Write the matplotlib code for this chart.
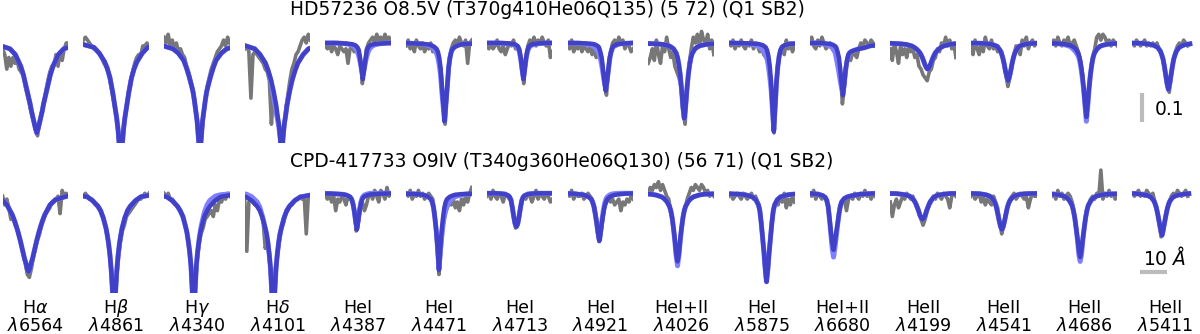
import numpy as np
import matplotlib.pyplot as plt

# line labels along the bottom
line_names = [r'H$\alpha$', r'H$\beta$', r'H$\gamma$', r'H$\delta$', 'HeI', 'HeI',
              'HeI', 'HeI', 'HeI+II', 'HeI', 'HeI+II', 'HeII', 'HeII', 'HeII', 'HeII']
line_waves = ['6564', '4861', '4340', '4101', '4387', '4471', '4713', '4921',
              '4026', '5875', '6680', '4199', '4541', '4686', '5411']

titles = ['HD57236 O8.5V (T370g410He06Q135) (5 72) (Q1 SB2)',
          'CPD-417733 O9IV (T340g360He06Q130) (56 71) (Q1 SB2)']

# model sample points, Angstrom from line centre
fit_grid = [-16, -10, -8, -6, -5, -4, -3, -2.5, -2, -1.5, -1, -0.5, 0,
            0.5, 1, 1.5, 2, 2.5, 3, 4, 5, 6, 8, 10, 16]
# observed sample points, Angstrom from window centre
obs_grid = np.linspace(-12.2, 12.2, 33)

# line centre offsets (Angstrom) inside each window
shift_top = [0.5, 1.7, 1.1, 1.5, 1.7, 2.1, 1.4, 2.0, 1.2, 4.5, 0.2, 1.7, 1.6, 0.7, 1.2]
shift_bot = [-2.6, -0.8, -1.2, -1.6, -0.5, 0.0, -1.2, -0.4, -1.3, 1.8, -3.3, -0.2, -0.7, -1.6, -1.2]

# line depths in percent of continuum (1 - flux)
fit_top = [
    [0.2, 2, 4, 8, 11, 15, 19, 21, 23.5, 25.5, 27.5, 29.5, 31, 29.5, 27.5, 25.5, 23.5, 21, 19, 15, 11, 8, 4, 2, 0.2],
    [0, 1.5, 3.5, 6.5, 8.8, 12, 17, 20, 23, 26, 30, 36, 40, 36, 30, 26, 23, 20, 17, 12, 8.8, 6.5, 3.5, 1.5, 0],
    [0.3, 2, 3.5, 6, 8.5, 11.5, 15, 17, 20, 23.5, 27, 33, 40, 33, 27, 23.5, 20, 17, 15, 11.5, 8.5, 6, 3.5, 2, 0.3],
    [0.2, 2, 4, 7, 9.5, 12.5, 16.5, 19, 21.5, 25, 28, 33, 40, 33, 28, 25, 21.5, 19, 16.5, 12.5, 9.5, 7, 4, 2, 0.2],
    [0, 0, 0.1, 0.2, 0.3, 0.4, 0.7, 1, 1.5, 2.5, 5.5, 9, 12.5, 9, 5.5, 2.5, 1.5, 1, 0.7, 0.4, 0.3, 0.2, 0.1, 0, 0],
    [0, 0.2, 0.3, 0.5, 0.8, 1.2, 2, 3, 5, 8.5, 15, 21, 27, 21, 15, 8.5, 5, 3, 2, 1.2, 0.8, 0.5, 0.3, 0.2, 0],
    [0, 0, 0, 0.1, 0.2, 0.3, 0.5, 0.8, 1.2, 2.5, 5, 9, 12.5, 9, 5, 2.5, 1.2, 0.8, 0.5, 0.3, 0.2, 0.1, 0, 0, 0],
    [0, 0, 0.1, 0.2, 0.3, 0.5, 1, 1.5, 3, 5, 9, 13, 16.5, 13, 9, 5, 3, 1.5, 1, 0.5, 0.3, 0.2, 0.1, 0, 0],
    [0.1, 0.3, 0.5, 0.9, 1.3, 2, 3.5, 5, 7.5, 11, 16, 22, 26, 22, 16, 11, 7.5, 5, 3.5, 2, 1.3, 0.9, 0.5, 0.3, 0.1],
    [0, 0.1, 0.2, 0.3, 0.5, 0.8, 1.5, 2.5, 4.5, 8, 13.5, 22, 30.5, 22, 13.5, 8, 4.5, 2.5, 1.5, 0.8, 0.5, 0.3, 0.2, 0.1, 0],
    [0, 0, 0, 0.2, 0.3, 0.5, 1, 1.5, 3, 5, 9, 14, 18, 14, 9, 6, 4, 3.3, 3, 2.6, 2.3, 2, 1.6, 1, 0.3],
    [0, 0.3, 0.5, 1, 1.5, 2.2, 3.2, 4, 5, 6.2, 7.5, 8.5, 9, 8.5, 7.5, 6.2, 5, 4, 3.2, 2.2, 1.5, 1, 0.5, 0.3, 0],
    [0, 0.1, 0.2, 0.5, 0.8, 1.2, 2.5, 3.5, 5, 7, 9.5, 11.5, 13, 11.5, 9.5, 7, 5, 3.5, 2.5, 1.2, 0.8, 0.5, 0.2, 0.1, 0],
    [0, 0.2, 0.4, 0.8, 1.2, 2, 3.5, 5, 7.5, 11, 15.5, 21, 25.5, 21, 15.5, 11, 7.5, 5, 3.5, 2, 1.2, 0.8, 0.4, 0.2, 0],
    [0, 0.1, 0.3, 0.6, 1, 1.5, 2.8, 4, 5.5, 8, 11, 14, 16, 14, 11, 8, 5.5, 4, 2.8, 1.5, 1, 0.6, 0.3],
]
# second model (lighter line); None = same as first
fit2_top = [
    None, None, None,
    [0.2, 2, 4, 7, 9.5, 13, 18.5, 21, 24, 26.5, 29, 33, 40, 33, 28, 25, 21.5, 19, 16.5, 12.5, 9.5, 7, 4, 2, 0.2],
    [0, 0, 0.1, 0.3, 0.5, 0.8, 1.5, 2, 3, 4.5, 6.5, 9, 11, 9, 6.5, 4.5, 3, 2, 1.5, 0.8, 0.5, 0.3, 0.1, 0, 0],
    [0, 0.2, 0.4, 0.8, 1.2, 2, 3.5, 5, 7.5, 11, 17, 22, 27, 21, 15, 8.5, 5, 3, 2, 1.2, 0.8, 0.5, 0.3, 0.2, 0],
    [0, 0, 0.1, 0.2, 0.3, 0.5, 0.8, 1.2, 1.8, 3, 5.5, 9, 12, 9, 5.5, 3, 1.8, 1.2, 0.8, 0.5, 0.3, 0.2, 0.1, 0, 0],
    [0, 0.1, 0.3, 0.6, 0.9, 1.5, 2.8, 3.8, 5.2, 7.5, 10.5, 13.5, 16, 13, 9.5, 5.5, 3.2, 1.8, 1.2, 0.6, 0.4, 0.2, 0.1, 0, 0],
    None,
    [0, 0.2, 0.5, 1, 1.6, 2.5, 4, 5.5, 8, 11.5, 16, 23, 30, 22, 13.5, 8, 4.5, 2.5, 1.5, 0.8, 0.5, 0.3, 0.2, 0.1, 0],
    [0, 0, 0.2, 0.5, 1, 1.5, 3, 5, 7.5, 10, 13, 15.5, 17, 14, 9.5, 6.5, 4.5, 3.5, 3, 2.6, 2.3, 2, 1.6, 1, 0.3],
    None, None,
    [0, 0.3, 0.6, 1.2, 2, 3, 4.5, 6, 8.5, 12, 16, 21.5, 27, 22, 16, 11, 7.5, 5, 3.5, 2, 1.2, 0.8, 0.4, 0.2, 0],
    None,
]
obs_top = [
    [2, 4, 9, 5, 8, 5, 7, 6, 9, 10, 11, 15, 18, 21, 24, 27, 30, 32, 27, 24, 21, 17, 13, 10, 8, 8, 4, 8, 3, 6, 2, 0, 0],
    [-1, -2, -1, 0, 1, 2, 2, 3, 4, 5, 7, 8, 10, 13, 17, 21, 25, 31, 40, 36, 27, 22, 17, 13, 10, 7, 5, 4, 4, 1, 1, 0, 1],
    [-2, 0, -3, 1, -1, 2, 0, 3, 2, 4, 5, 8, 10, 13, 16, 20, 26, 35, 35, 26, 20, 15, 12, 9, 7, 5, 3, 2, 1, -1, 1, -2, 0],
    [2, 1, 3, 19, 4, 3, 4, 5, 6, 7, 9, 10, 13, 28, 17, 21, 26, 31, 40, 30, 23, 18, 13, 9, 7, 4, 3, 1, -1, -2, 0, -3, -1],
    [1, 2, 0, 3, 1, 2, 4, 1, 2, 3, 2, 7, 2, 1, 3, 2, 2, 5, 14, 8, 2, 0, -1, -2, 0, -3, -1, -2, 0, -3, -1, -2, 0],
    [1, -1, 2, 0, 3, -1, 1, 2, 0, 3, 1, 2, 0, 3, 2, 4, 6, 9, 20, 28, 15, 6, 2, 0, -1, 1, -2, 0, 1, -1, 7, 0, -1],
    [1, 2, 0, 2, 1, -1, 2, 3, 1, 4, 2, 0, 1, -1, 2, 1, 2, 8, 14, 6, 1, -1, 0, -2, 1, -1, 0, -2, 0, 1, -1, 5, 3],
    [0, 2, -1, 3, 1, 2, 0, 3, 1, 2, 3, 1, 4, 2, 5, 3, 4, 7, 14, 18, 9, 3, 0, -1, 1, -2, 0, -1, 2, 0, 1, 3, 2],
    [7, 5, 2, 6, -1, 4, 7, 1, 3, -2, 2, 5, 3, 8, 10, 12, 15, 24, 28, 15, 7, 2, -2, 0, -3, 1, -4, -1, 0, -3, 2, -1, 4],
    [0, 1, -1, 2, 0, 1, -1, 1, 2, 0, 1, -1, 2, 0, 1, 3, 2, 4, 5, 6, 10, 18, 31, 16, 7, 3, 1, 4, -1, 2, 0, 3, 1],
    [0, -2, 1, 2, -1, 1, -2, 0, 2, 1, 0, 2, 3, 4, 6, 10, 21, 15, 7, 5, 6, 3, 4, 5, 2, 0, 1, -1, 0, 1, -1, 0, 1],
    [2, 6, 0, 3, 7, 1, 4, 2, 5, 1, 3, 2, 5, 4, 8, 9, 11, 12, 13, 10, 9, 6, 5, 2, 3, 0, 1, -2, 1, -1, 2, 0, 5],
    [1, 4, -1, 2, 4, 0, 3, -2, 1, 2, -1, 2, 1, 3, 2, 3, 7, 11, 15, 12, 8, 4, 1, 2, 4, -1, 1, -2, 2, 0, -1, 1, 0],
    [0, -1, 1, -2, 0, 1, -1, 0, -2, 1, 0, -1, 1, 3, 6, 11, 19, 26, 16, 10, 5, 2, -2, -3, -1, -3, -2, 0, -1, 1, -1, 0, 1],
    [0, 1, -1, 0, 1, 0, -1, 1, 0, 1, 0, 1, 0, 2, 3, 6, 10, 15, 17, 11, 6, 3, 1, 0, 1, -1, 0, 1],
]

fit_bot = [
    [0.5, 2.2, 4, 7.5, 10, 13, 16.5, 18.5, 20.5, 22.5, 24, 26, 27, 26, 24, 22.5, 20.5, 18.5, 16.5, 13, 10, 7.5, 4, 2.2, 0.5],
    [0.2, 1.2, 2.5, 4.5, 6, 8.5, 12, 14.5, 17.5, 21.5, 27, 35, 45, 35, 27, 21.5, 17.5, 14.5, 12, 8.5, 6, 4.5, 2.5, 1.2, 0.2],
    [0.2, 1.2, 2.5, 4.5, 6, 8, 11.5, 13.5, 16.5, 20, 25, 34, 45, 34, 25, 20, 16.5, 13.5, 11.5, 8, 6, 4.5, 2.5, 1.2, 0.2],
    [0.2, 1.3, 2.5, 4.5, 6, 8.5, 12, 14, 17, 21, 26, 35, 45, 35, 26, 21, 17, 14, 12, 8.5, 6, 4.5, 2.5, 1.3, 0.2],
    [0, 0.1, 0.2, 0.3, 0.4, 0.6, 1, 1.3, 2, 3.5, 6, 9.5, 12.5, 9.5, 6, 3.5, 2, 1.3, 1, 0.6, 0.4, 0.3, 0.2, 0.1, 0],
    [0, 0.2, 0.3, 0.5, 0.8, 1.2, 2, 3, 5, 8.5, 13, 19, 26.5, 19, 13, 8.5, 5, 3, 2, 1.2, 0.8, 0.5, 0.3, 0.2, 0],
    [0, 0, 0, 0.1, 0.2, 0.4, 0.8, 1.3, 2.5, 5, 8, 10.5, 11.5, 10.5, 8, 5, 2.5, 1.3, 0.8, 0.4, 0.2, 0.1, 0, 0, 0],
    [0, 0.1, 0.3, 0.5, 0.8, 1.2, 2, 3, 4.5, 7, 10, 13.5, 16.5, 13.5, 10, 7, 4.5, 3, 2, 1.2, 0.8, 0.5, 0.3, 0.1, 0],
    [0.1, 0.3, 0.6, 1.2, 1.8, 2.8, 4.5, 6, 8.5, 12, 16, 21, 23.5, 21, 16, 12, 8.5, 6, 4.5, 2.8, 1.8, 1.2, 0.6, 0.3, 0.1],
    [0.1, 0.3, 0.5, 1, 1.4, 2.2, 4, 6, 10, 15, 20, 26, 30.5, 26, 20, 15, 10, 6, 4, 2.2, 1.4, 1, 0.5, 0.3, 0.1],
    [0, 0, 0.1, 0.3, 0.5, 0.8, 1.5, 2.5, 4.5, 8.5, 13, 17, 19.5, 17, 13.5, 10.5, 7, 4.5, 3, 1.8, 1.3, 1, 0.6, 0.3, 0],
    [0, 0.1, 0.3, 0.6, 0.9, 1.5, 2.7, 3.6, 4.8, 6, 7.5, 8.5, 9, 8.5, 7.5, 6, 4.8, 3.6, 2.7, 1.5, 0.9, 0.6, 0.3, 0.1, 0],
    [0, 0.1, 0.2, 0.5, 0.8, 1.3, 2.5, 3.5, 5, 7.2, 9.5, 11.5, 12.5, 11.5, 9.5, 7.2, 5, 3.5, 2.5, 1.3, 0.8, 0.5, 0.2, 0.1, 0],
    [0.1, 0.3, 0.5, 1, 1.5, 2.5, 4.2, 6, 8.5, 12, 15.5, 19.5, 22, 19.5, 15.5, 12, 8.5, 6, 4.2, 2.5, 1.5, 1, 0.5, 0.3, 0.1],
    [0, 0.1, 0.3, 0.6, 0.9, 1.4, 2.6, 3.7, 5.3, 7.5, 10, 12.5, 14.5, 12.5, 10, 7.5, 5.3, 3.7, 2.6, 1.4, 0.9, 0.6, 0.3, 0.1],
]
fit2_bot = [
    None, None,
    [0.2, 1.2, 2.5, 4.5, 6, 8, 11.5, 13.5, 16.5, 20, 25, 34, 45, 34, 25, 20, 16, 13, 10.5, 6.5, 4, 2.5, 1, 0.5, 0],
    [0, 0.3, 1.2, 3, 4.8, 8, 12, 14, 17, 21, 26, 35, 45, 35, 26, 21, 17, 14, 12, 8.5, 6, 4.5, 2.5, 1.3, 0.2],
    [0, 0.1, 0.2, 0.3, 0.4, 0.6, 1, 1.3, 2, 3.5, 6, 9.5, 12, 9, 5.5, 3, 1.5, 0.8, 0.5, 0.2, 0, 0, 0, 0, 0],
    [0, 0.2, 0.3, 0.5, 0.8, 1.2, 2, 3, 5, 8.5, 13, 19, 26, 20, 15, 11, 8, 6, 4.5, 2.8, 1.8, 1.2, 0.6, 0.3, 0],
    None,
    [0, 0.1, 0.3, 0.5, 0.8, 1.2, 2, 3, 4.5, 7, 10, 13.5, 16, 13, 9.5, 6, 3.5, 2, 1.2, 0.5, 0.2, 0.1, 0, 0, 0],
    [0.1, 0.3, 0.6, 1.2, 1.8, 2.8, 4.5, 6, 8.5, 12, 16.5, 21.5, 25, 21.5, 16.5, 12, 8.5, 6, 4.5, 2.8, 1.8, 1.2, 0.6, 0.3, 0.1],
    None,
    [0, 0, 0.1, 0.3, 0.5, 0.8, 1.5, 2.5, 4.5, 9, 14, 19, 22, 19, 15, 11, 7.5, 4.5, 3, 1.8, 1.3, 1, 0.6, 0.3, 0],
    None, None,
    [0.1, 0.3, 0.5, 1, 1.5, 2.5, 4.2, 6, 8.5, 12, 16, 21, 23.5, 21, 16, 12, 8.5, 6, 4.2, 2.5, 1.5, 1, 0.5, 0.3, 0.1],
    None,
]
obs_bot = [
    [1, 4, 2, 5, 9, 8, 11, 12, 15, 18, 21, 24, 28, 29, 26, 22, 19, 16, 14, 11, 9, 7, 6, 5, 3, 3, 2, 1, 7, -1, 1, 0, 1],
    [1, 0, 1, 2, 2, 3, 4, 4, 5, 7, 9, 12, 16, 22, 31, 44, 31, 23, 17, 13, 11, 8, 7, 6, 5, 4, 3, 2, 2, 1, 0, 1, 0],
    [0, 1, 0, 2, 2, 3, 4, 5, 6, 8, 10, 13, 18, 24, 38, 36, 24, 18, 14, 12, 9, 8, 7, 6, 8, 4, 6, 2, 3, 1, 2, 0, 1],
    [2, 20, 3, 2, 3, 4, 4, 5, 7, 10, 19, 16, 22, 32, 44, 30, 21, 16, 12, 10, 7, 6, 4, 4, 3, 2, 2, 1, 2, 1, 14, 1, 1],
    [1, 2, 0, 3, 1, 6, 2, 3, 1, 2, 4, 1, 2, 2, 5, 13, 10, 5, 3, 6, 4, 1, 0, 2, -1, 1, 3, -1, 0, 2, -2, 1, 0],
    [0, 1, -1, 2, 0, 1, -1, 1, 0, 2, 1, 0, 1, 2, 7, 17, 28, 20, 11, 7, 5, 3, 4, 2, 5, 3, 6, 2, 4, 1, 3, 0, -2],
    [1, 0, 2, -1, 1, 2, 0, 1, 3, 0, 1, 2, 2, 8, 12, 11, 7, 3, 1, 2, 0, 1, 3, 1, -1, 2, 0, 1, 2, 0, 1, 3, 2],
    [0, 1, -1, 2, 0, 1, 1, 0, 2, 1, 0, 1, 2, 4, 8, 15, 16, 10, 5, 3, 2, 3, 2, 4, 3, 2, 6, 3, 4, 2, 3, 1, 2],
    [0, -2, -1, -3, -2, -4, -1, -3, -1, 1, 2, 6, 10, 16, 23, 21, 13, 8, 5, 2, 0, -2, -1, -3, -2, -1, -3, -2, 0, -1, 1, 0, 1],
    [1, 0, 2, 1, 0, 1, 2, 0, 1, 2, 1, 0, 2, 1, 3, 5, 11, 20, 30, 27, 17, 10, 5, 3, 4, 1, 3, 0, 5, 2, 4, 1, 3],
    [0, 1, -1, 2, 0, 1, 2, 1, 2, 5, 11, 18, 20, 14, 9, 5, 3, 2, 6, 2, 1, 2, 0, 1, 2, 0, 1, -1, 1, 0, 2, 0, 1],
    [3, 8, 4, 2, 5, 3, 1, 2, 0, 1, 2, 1, 3, 4, 6, 9, 11, 9, 6, 4, 3, 1, 2, 0, 1, 2, 0, 1, 2, 5, 1, 0, 1],
    [1, 0, 2, 1, 0, 3, 1, 4, 2, 3, 4, 1, 3, 5, 10, 14, 11, 7, 4, 2, 1, 0, 2, 1, 0, 1, 2, 1, 5, 2, 0, 1, 1],
    [1, 0, 2, -1, 1, 0, 2, 1, 0, 1, 3, 7, 12, 19, 23, 17, 11, 6, 4, 2, 1, 2, 0, 1, -8, 2, 0, 1, -1, 1, 0, 2, 1],
    [0, 1, 0, -1, 1, 0, 1, -1, 0, 1, 0, 3, 5, 10, 15, 14, 9, 5, 3, 1, 0, 1, -1, 0, 1, 0, -1, 1],
]

W, H = 1200, 334
fig = plt.figure(figsize=(12, 3.34), dpi=100)

col_obs = '#777777'
col_fit2 = '#8080ff'
col_fit = '#4141c8'
bar_col = '#bbbbbb'

pitch = 80.69
panel_w = 65.6
cont_px = [43.0, 193.3]    # continuum level of each row, pixels from top
px_per_unit = 290.0
ylo, yhi = 0.655, 1.10

rows = [(fit_top, fit2_top, obs_top, shift_top),
        (fit_bot, fit2_bot, obs_bot, shift_bot)]

axes = []
for r, (fits, fits2, obss, shifts) in enumerate(rows):
    top = cont_px[r] - (yhi - 1) * px_per_unit
    hgt = (yhi - ylo) * px_per_unit
    row_axes = []
    for i in range(15):
        left = 2.7 + pitch * i
        ax = fig.add_axes([left / W, 1 - (top + hgt) / H, panel_w / W, hgt / H])
        ax.axis('off')
        ax.set_xlim(-12.2, 12.2)
        ax.set_ylim(ylo, yhi)

        obs = obss[i]
        xo = obs_grid[:len(obs)]
        ax.plot(xo, 1 - np.array(obs) / 100.0, color=col_obs, lw=2.6, zorder=1)

        fit = fits[i]
        xf = np.array(fit_grid[:len(fit)]) + shifts[i]
        fit2 = fits2[i] if fits2[i] is not None else fit
        ax.plot(xf, 1 - np.array(fit2) / 100.0, color=col_fit2, lw=3.6, zorder=2)
        ax.plot(xf, 1 - np.array(fit) / 100.0, color=col_fit, lw=3.2, zorder=3)
        row_axes.append(ax)
    axes.append(row_axes)

# row titles
fig.text(290 / W, 1 - 15.0 / H, titles[0], fontsize=13.4, ha='left', va='baseline')
fig.text(290 / W, 1 - 167.3 / H, titles[1], fontsize=13.4, ha='left', va='baseline')

# line labels, two rows of text
for i in range(15):
    xc = (2.7 + pitch * i + panel_w / 2) / W
    fig.text(xc, 1 - 313.0 / H, line_names[i], fontsize=12.6, ha='center', va='baseline')
    fig.text(xc, 1 - 331.0 / H, r'$\lambda$' + line_waves[i], fontsize=12.6,
             ha='center', va='baseline')

# scale bars
ax = axes[0][14]
ax.plot([-8.5, -8.5], [0.828, 0.728], color=bar_col, lw=3, solid_capstyle='butt',
        clip_on=False)
ax.text(-3.9, 0.752, '0.1', fontsize=13.4, ha='left', va='baseline')

ax = axes[1][14]
ax.plot([-9.3, 0.7], [0.729, 0.729], color=bar_col, lw=3, solid_capstyle='butt',
        clip_on=False)
ax.text(-0.4, 0.753, r'10 $\AA$', fontsize=13.4, ha='center', va='baseline')

fig.savefig('out.png', dpi=100)
